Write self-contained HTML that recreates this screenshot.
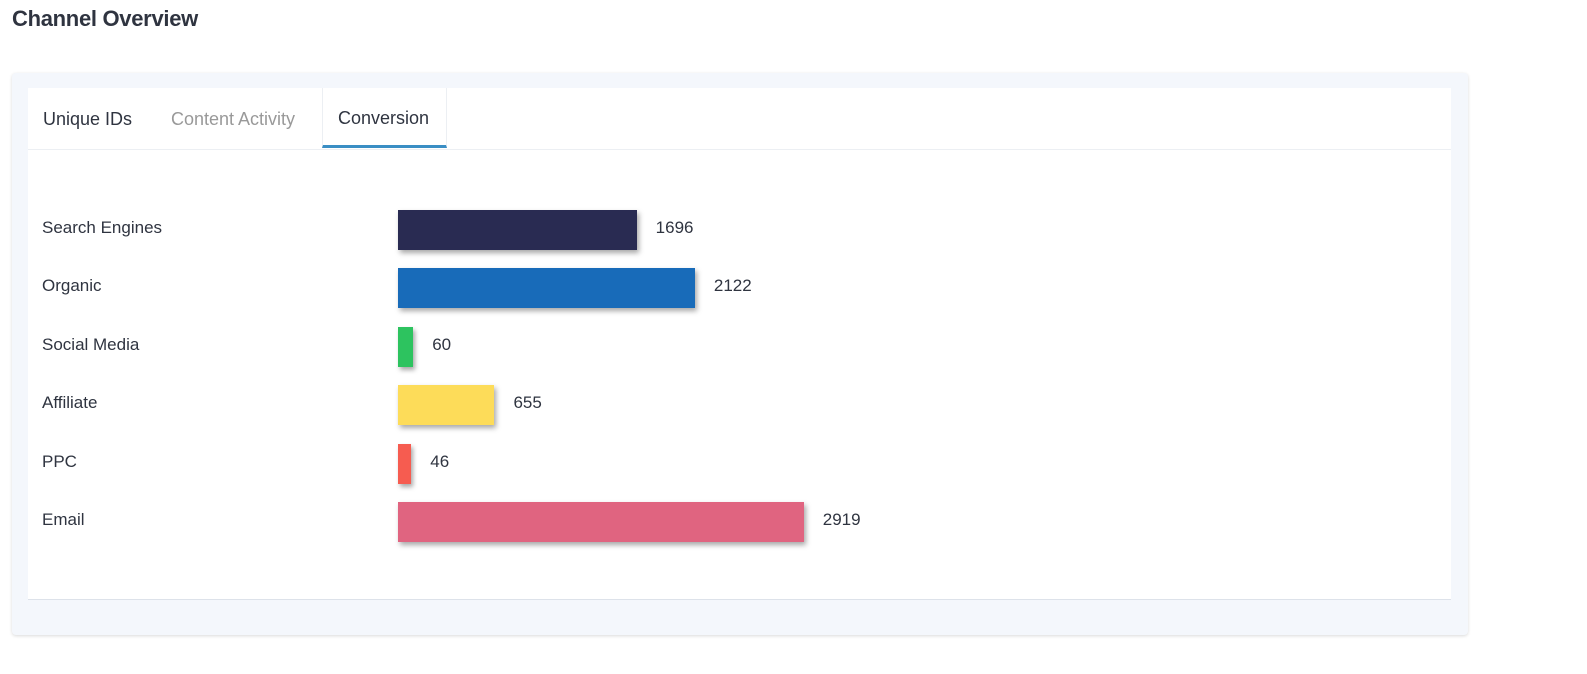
<!DOCTYPE html>
<html><head><meta charset="utf-8"><style>
body{margin:0;width:1587px;height:674px;background:#fff;font-family:"Liberation Sans",sans-serif;position:relative;overflow:hidden}
.title{position:absolute;left:12px;top:6px;font-size:22px;font-weight:bold;color:#2f3440;letter-spacing:-0.3px}
.card{position:absolute;left:12px;top:73px;width:1456px;height:562px;background:#f4f7fc;border-radius:4px;box-shadow:0 1px 3px rgba(0,0,0,.15)}
.inner{position:absolute;left:28px;top:88px;width:1423px;height:511px;background:#fff;border-bottom:1px solid #dde2ea}
.tabs{position:absolute;left:0;top:0;width:1423px;height:61px;border-bottom:1px solid #eceff3}
.tab{position:absolute;top:0;height:61px;line-height:62px;font-size:18px;color:#2f3440}
.tab.dim{color:#999}
.tab.active{border-left:1px solid #eceff3;border-right:1px solid #eceff3;border-bottom:3px solid #3a8ec4;height:60px;box-sizing:border-box;padding:0 15px;line-height:60px}
.lbl{position:absolute;font-size:17px;color:#2f3440}
.bar{position:absolute;height:40px;box-shadow:2px 3px 5px rgba(0,0,0,.35)}
.val{position:absolute;font-size:17px;color:#2f3440}
</style></head><body>
<div class="title">Channel Overview</div>
<div class="card"></div>
<div class="inner">
 <div class="tabs">
  <div class="tab" style="left:15px">Unique IDs</div>
  <div class="tab dim" style="left:143px">Content Activity</div>
  <div class="tab active" style="left:294px;width:125px">Conversion</div>
 </div>
</div>
<div id="chart"></div>
<script>
const categories=["Search Engines","Organic","Social Media","Affiliate","PPC","Email"];
const values=[1696,2122,60,655,46,2919];
const colors=["#292b52","#186bb9","#2dc35f","#fddc59","#f65c50","#e06480"];
const x0=398,top0=210,step=58.4;
function xw(v){return 7+v*0.1366;}
function yp(i){return top0+i*step;}
const c=document.getElementById('chart');
categories.forEach((cat,i)=>{
 const l=document.createElement('div');l.className='lbl';
 
 
 l.style.left='42px';l.style.top=(yp(i)+8)+'px';l.textContent=cat;c.appendChild(l);
 const b=document.createElement('div');b.className='bar';
 
 
 const w=xw(values[i]);
 b.style.left=x0+'px';b.style.top=yp(i)+'px';b.style.width=w+'px';b.style.background=colors[i];c.appendChild(b);
 const v=document.createElement('div');v.className='val';
 
 
 v.style.left=(x0+w+19)+'px';v.style.top=(yp(i)+8)+'px';v.textContent=values[i];c.appendChild(v);
});
</script>
</body></html>
